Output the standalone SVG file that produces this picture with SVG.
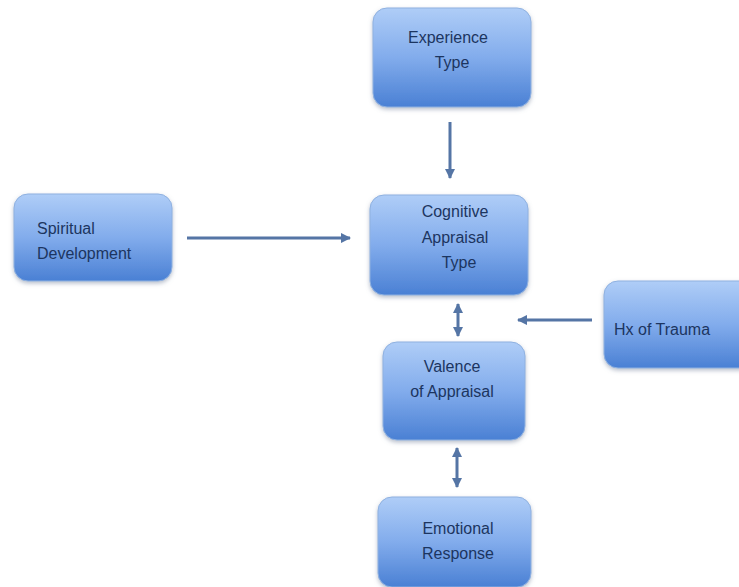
<svg xmlns="http://www.w3.org/2000/svg" width="739" height="587" viewBox="0 0 739 587">
<style>
.box{fill:url(#g);stroke:#8fb1e0;stroke-width:1;filter:url(#sh)}
.t{font-family:"Liberation Sans","Open Sans",sans-serif;font-size:16px;fill:#1c3560}
.c{stroke:#5575a5;stroke-width:3;fill:none}
</style>
<defs>
<linearGradient id="g" x1="0" y1="0" x2="0" y2="1">
<stop offset="0" stop-color="#afcdf7"/>
<stop offset="0.5" stop-color="#82acec"/>
<stop offset="1" stop-color="#4a80d4"/>
</linearGradient>
<filter id="sh" x="-10%" y="-10%" width="120%" height="125%">
<feDropShadow dx="0" dy="2" stdDeviation="2" flood-color="#6f7f99" flood-opacity="0.5"/>
</filter>
<marker id="ah" viewBox="0 0 10 10" refX="9" refY="5" markerWidth="3.5" markerHeight="3.5" orient="auto-start-reverse">
<path d="M0,0 L10,5 L0,10 z" fill="#5575a5"/>
</marker>
</defs>
<g id="connectors">
<line class="c" x1="450" y1="122" x2="450" y2="178" marker-end="url(#ah)"/>
<line class="c" x1="187" y1="238" x2="350" y2="238" marker-end="url(#ah)"/>
<line class="c" x1="592" y1="320" x2="518" y2="320" marker-end="url(#ah)"/>
<line class="c" x1="458" y1="304" x2="458" y2="336" marker-start="url(#ah)" marker-end="url(#ah)"/>
<line class="c" x1="457" y1="448" x2="457" y2="487" marker-start="url(#ah)" marker-end="url(#ah)"/>
</g>
<g id="experience">
<rect class="box" x="373" y="8" width="158" height="99" rx="14"/>
<text class="t" x="448" y="43" text-anchor="middle">Experience</text>
<text class="t" x="452" y="68" text-anchor="middle">Type</text>
</g>
<g id="cognitive">
<rect class="box" x="370" y="195" width="158" height="100" rx="14"/>
<text class="t" x="455" y="217" text-anchor="middle">Cognitive</text>
<text class="t" x="455" y="243" text-anchor="middle">Appraisal</text>
<text class="t" x="459" y="268" text-anchor="middle">Type</text>
</g>
<g id="spiritual">
<rect class="box" x="14" y="194" width="158" height="87" rx="14"/>
<text class="t" x="37" y="234">Spiritual</text>
<text class="t" x="37" y="259">Development</text>
</g>
<g id="trauma">
<rect class="box" x="604" y="281" width="150" height="87" rx="14"/>
<text class="t" x="614" y="335">Hx of Trauma</text>
</g>
<g id="valence">
<rect class="box" x="383" y="342" width="142" height="98" rx="14"/>
<text class="t" x="452" y="372" text-anchor="middle">Valence</text>
<text class="t" x="452" y="397" text-anchor="middle">of Appraisal</text>
</g>
<g id="emotional">
<rect class="box" x="378" y="497" width="153" height="90" rx="14"/>
<text class="t" x="458" y="534" text-anchor="middle">Emotional</text>
<text class="t" x="458" y="559" text-anchor="middle">Response</text>
</g>
</svg>
